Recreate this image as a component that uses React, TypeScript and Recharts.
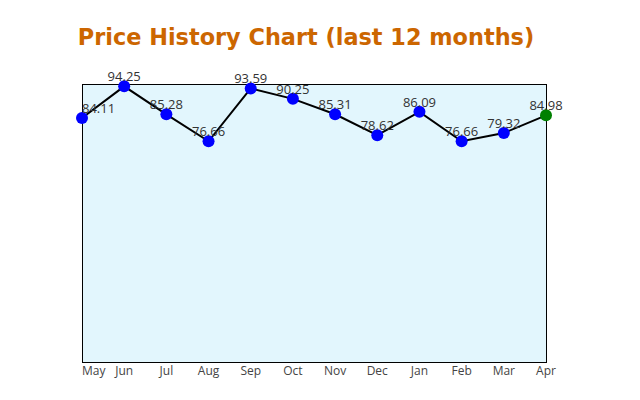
import { LineChart, Line, XAxis, YAxis, CartesianGrid, ReferenceArea, LabelList } from 'recharts';

const months = ['May', 'Jun', 'Jul', 'Aug', 'Sep', 'Oct', 'Nov', 'Dec', 'Jan', 'Feb', 'Mar', 'Apr'];
const prices = [84.11, 94.25, 85.28, 76.66, 93.59, 90.25, 85.31, 78.62, 86.09, 76.66, 79.32, 84.98];
const yDomain = [6, 95];

const data = months.map((m, i) => ({ month: m, price: prices[i] }));
const lastIndex = prices.length - 1;

function PriceDot(props: any) {
  const { cx, cy, index } = props;
  return <circle cx={cx} cy={cy} r={6} fill={index === lastIndex ? '#008000' : '#0000ff'} />;
}

function PriceLabel(props: any) {
  const { x, y, value, index } = props;
  return (
    <text
      x={x}
      y={y - 5}
      textAnchor={index === 0 ? 'start' : 'middle'}
      fill="#333"
      fontSize={13}
      fontFamily="'Open Sans', sans-serif"
    >
      {value}
    </text>
  );
}

function MonthTick(props: any) {
  const { x, y, payload, index } = props;
  return (
    <text
      x={x}
      y={y}
      dy="0.71em"
      textAnchor={index === 0 ? 'start' : 'middle'}
      fill="#444"
      fontSize={12}
      fontFamily="'Open Sans', sans-serif"
    >
      {payload.value}
    </text>
  );
}

export default function App() {
  return (
    <div style={{ position: 'absolute', left: 0, top: 0, width: 640, height: 400, background: '#fff' }}>
      <div
        style={{
          position: 'absolute',
          left: 0,
          top: 24,
          width: 612,
          textAlign: 'center',
          fontFamily: "'DejaVu Sans', sans-serif",
          fontWeight: 'bold',
          fontSize: 22.4,
          color: '#cc6600',
        }}
      >
        Price History Chart (last 12 months)
      </div>
      <LineChart width={640} height={400} data={data} margin={{ top: 84, right: 94, left: 82, bottom: 8 }}>
        <CartesianGrid horizontal={false} vertical={false} fill="#e2f6fd" />
        <XAxis
          dataKey="month"
          height={30}
          axisLine={false}
          tickLine={false}
          tickSize={0}
          tickMargin={4}
          interval={0}
          tick={<MonthTick />}
        />
        <YAxis hide domain={yDomain} />
        <ReferenceArea
          x1="May"
          x2="Apr"
          y1={yDomain[0]}
          y2={yDomain[1]}
          fill="none"
          stroke="#000"
          strokeWidth={1}
          strokeOpacity={1}
          shapeRendering="crispEdges"
        />
        <Line dataKey="price" stroke="none" dot={false} isAnimationActive={false}>
          <LabelList dataKey="price" content={<PriceLabel />} />
        </Line>
        <Line
          dataKey="price"
          stroke="#000"
          strokeWidth={2}
          dot={<PriceDot />}
          activeDot={false}
          isAnimationActive={false}
        />
      </LineChart>
    </div>
  );
}
